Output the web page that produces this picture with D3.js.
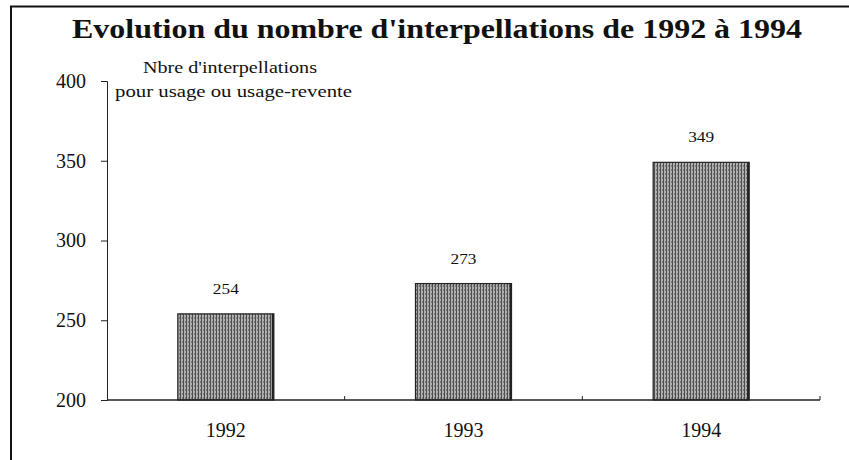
<!DOCTYPE html>
<html>
<head>
<meta charset="utf-8">
<script src="https://cdn.jsdelivr.net/npm/d3@7"></script>
<style>
  body { margin: 0; background: #fff; }
  svg { display: block; }
  text { font-family: "Liberation Serif", "DejaVu Serif", serif; fill: #111; }
</style>
</head>
<body>
<svg id="chart" width="849" height="460"></svg>
<script>
// donnees
const years   = ["1992", "1993", "1994"];
const counts  = [254, 273, 349];
const yTicks  = [200, 250, 300, 350, 400];
const title   = "Evolution du nombre d'interpellations de 1992 à 1994";
const yNote   = ["Nbre d'interpellations", "pour usage ou usage-revente"];

const svg = d3.select("#chart");

// cadre (haut + gauche seulement)
svg.append("path")
    .attr("d", "M11,470 V6.5 H849")
    .attr("fill", "none")
    .attr("stroke", "#111")
    .attr("stroke-width", 2);

svg.append("text")
    .attr("x", 437)
    .attr("y", 38)
    .attr("text-anchor", "middle")
    .attr("font-size", 28)
    .attr("font-weight", "bold")
    .attr("textLength", 730)
    .attr("lengthAdjust", "spacingAndGlyphs")
    .text(title);

const x = d3.scaleBand()
    .domain(years)
    .range([107, 820])
    .paddingInner(0.596)
    .paddingOuter(0.298);

const y = d3.scaleLinear()
    .domain([200, 400])
    .range([400, 81]);

// motif pointille des barres
const defs = svg.append("defs");
const pat = defs.append("pattern")
    .attr("id", "stipple")
    .attr("width", 3)
    .attr("height", 4)
    .attr("patternUnits", "userSpaceOnUse");
pat.append("rect").attr("width", 3).attr("height", 4).attr("fill", "#b0b0b0");
pat.append("rect").attr("x", 0).attr("width", 1).attr("height", 4).attr("fill", "#4e4e4e");
pat.append("rect").attr("x", 2).attr("y", 1).attr("width", 1).attr("height", 2).attr("fill", "#7a7a7a");

// axe Y
const yAxis = svg.append("g")
    .attr("transform", "translate(107,0)")
    .call(d3.axisLeft(y).tickValues(yTicks).tickSize(6).tickPadding(15));
yAxis.select(".domain").attr("stroke", "#222");
yAxis.selectAll(".tick line").attr("stroke", "#222");
yAxis.selectAll(".tick text")
    .attr("font-size", 20)
    .attr("font-family", "Liberation Serif, serif")
    .attr("fill", "#111");

// note de l'axe
svg.append("text").attr("x", 143).attr("y", 73).attr("font-size", 16)
    .attr("textLength", 174).attr("lengthAdjust", "spacingAndGlyphs").text(yNote[0]);
svg.append("text").attr("x", 115).attr("y", 97).attr("font-size", 16)
    .attr("textLength", 237).attr("lengthAdjust", "spacingAndGlyphs").text(yNote[1]);

// barres
svg.selectAll("rect.bar")
    .data(counts)
    .join("rect")
    .attr("class", "bar")
    .attr("x", (d, i) => x(years[i]))
    .attr("y", d => y(d))
    .attr("width", x.bandwidth())
    .attr("height", d => y(200) - y(d))
    .attr("fill", "url(#stipple)")
    .attr("stroke", "#222")
    .attr("stroke-width", 1.2);

// bord droit plus epais
svg.selectAll("line.edge")
    .data(counts)
    .join("line")
    .attr("class", "edge")
    .attr("x1", (d, i) => x(years[i]) + x.bandwidth() - 1)
    .attr("x2", (d, i) => x(years[i]) + x.bandwidth() - 1)
    .attr("y1", d => y(d))
    .attr("y2", y(200))
    .attr("stroke", "#222")
    .attr("stroke-width", 2);

// valeurs
svg.selectAll("text.val")
    .data(counts)
    .join("text")
    .attr("class", "val")
    .attr("x", (d, i) => x(years[i]) + x.bandwidth() / 2)
    .attr("y", d => y(d) - 20)
    .attr("text-anchor", "middle")
    .attr("font-size", 15)
    .attr("textLength", 26)
    .attr("lengthAdjust", "spacingAndGlyphs")
    .text(d => d);

// axe X
const xAxis = svg.append("g");
xAxis.append("line")
    .attr("x1", 107).attr("x2", 820)
    .attr("y1", y(200)).attr("y2", y(200))
    .attr("stroke", "#222")
    .attr("stroke-width", 1.5);
const bounds = years.map(d => x(d) + x.bandwidth() / 2 + x.step() / 2);
xAxis.selectAll("line.tk")
    .data(bounds)
    .join("line")
    .attr("class", "tk")
    .attr("x1", d => d).attr("x2", d => d)
    .attr("y1", y(200)).attr("y2", y(200) - 4)
    .attr("stroke", "#222");
xAxis.selectAll("text")
    .data(years)
    .join("text")
    .attr("x", d => x(d) + x.bandwidth() / 2)
    .attr("y", 437)
    .attr("text-anchor", "middle")
    .attr("font-size", 20)
    .text(d => d);
</script>
</body>
</html>
